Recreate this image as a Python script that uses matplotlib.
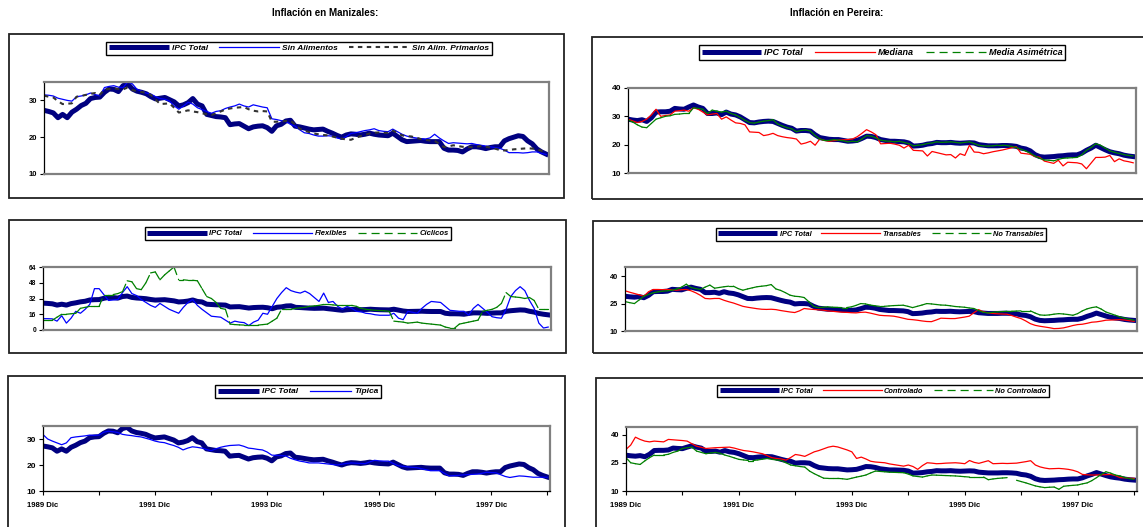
import numpy as np
import matplotlib
matplotlib.use("Agg")
import matplotlib.pyplot as plt
from matplotlib.collections import LineCollection
from matplotlib.lines import Line2D
from matplotlib.patches import Rectangle

plt.rcParams['font.family'] = ['Liberation Sans', 'DejaVu Sans']
plt.rcParams['lines.scale_dashes'] = False

W, H = 1143, 527

# monthly series, 1989 Dic .. 1998 Dic (109 months)
months = np.arange(109)
x_tick_pos = list(range(0, 109, 12))
x_tick_labels = ["1989 Dic", "", "1991 Dic", "", "1993 Dic", "", "1995 Dic", "", "1997 Dic", ""]

# ---- Manizales ----
mz_ipc = [27.3, 27.0, 26.6, 25.3, 26.2, 25.3, 26.8, 27.6, 28.6, 29.2,
          30.5, 30.8, 30.9, 32.2, 33.1, 33.0, 32.4, 34.0, 34.5, 33.1,
          32.5, 32.2, 31.8, 31.0, 30.4, 30.6, 30.8, 30.2, 29.6, 28.5,
          28.8, 29.4, 30.5, 29.0, 28.5, 26.2, 25.9, 25.6, 25.5, 25.3,
          23.4, 23.6, 23.7, 23.0, 22.3, 22.8, 23.0, 23.1, 22.6, 21.6,
          23.1, 23.5, 24.4, 24.6, 23.0, 22.8, 22.5, 22.2, 22.0, 22.1,
          22.2, 21.6, 21.1, 20.5, 20.0, 20.6, 20.9, 20.8, 20.6, 20.8,
          21.1, 20.8, 20.6, 20.5, 20.4, 21.1, 20.2, 19.3, 18.8, 18.9,
          19.0, 19.1, 18.9, 18.8, 18.8, 18.8, 17.0, 16.5, 16.5, 16.4,
          16.0, 16.8, 17.4, 17.4, 17.2, 16.9, 17.2, 17.4, 17.4, 19.0,
          19.6, 20.0, 20.4, 20.2, 19.0, 18.2, 16.8, 16.0, 15.4]
mz_sin_alim = [31.5, 31.4, 31.2, 30.6, 30.3, 30.0, 29.8, 31.0, 31.2, 31.5,
               32.0, 31.6, 31.2, 33.5, 33.8, 34.0, 33.6, 33.5, 35.0, 34.5,
               33.0, 32.5, 32.0, 31.7, 31.0, 30.5, 30.3, 29.8, 28.5, 27.6,
               28.5, 29.5, 29.0, 28.0, 27.5, 27.0, 26.5, 27.0, 27.2, 27.8,
               28.2, 28.5, 29.0, 28.5, 28.2, 28.8, 28.5, 28.2, 28.0, 25.0,
               24.8, 24.5, 24.3, 23.5, 23.0, 22.0, 21.2, 21.0, 20.6, 20.3,
               20.3, 20.4, 20.3, 19.8, 19.5, 20.2, 21.0, 21.2, 21.5, 21.8,
               22.0, 22.3, 21.8, 21.6, 21.5, 22.2, 21.5, 20.8, 20.3, 20.0,
               19.8, 19.6, 19.5, 19.8, 20.8, 19.8, 19.0, 18.3, 18.5, 18.4,
               18.3, 18.2, 18.3, 18.0, 17.8, 17.6, 17.4, 17.2, 17.0, 16.5,
               15.8, 15.8, 15.8, 15.7, 15.8, 16.0, 16.0, 15.6, 15.3]
mz_sin_prim = [31.3, 31.0, 30.8, 29.8, 29.0, 29.1, 29.2, 31.0, 31.2, 31.5,
               31.8, 32.0, 31.5, 33.0, 33.1, 33.3, 33.1, 33.0, 33.5, 32.8,
               32.5, 32.3, 32.0, 31.5, 30.2, 29.0, 29.1, 29.2, 28.0, 26.7,
               27.0, 27.3, 27.0, 26.8, 26.5, 26.2, 26.0, 26.5, 27.0, 27.5,
               27.8, 28.0, 28.1, 28.2, 27.6, 27.2, 27.0, 27.1, 27.0, 24.2,
               24.2, 24.3, 24.4, 24.5, 23.5, 22.3, 21.8, 21.4, 21.0, 20.8,
               20.6, 20.5, 20.2, 19.9, 19.6, 19.4, 19.3, 19.8, 20.3, 20.6,
               21.0, 21.2, 21.3, 21.2, 21.2, 21.8, 21.2, 20.5, 20.3, 20.2,
               19.9, 19.5, 19.3, 19.1, 19.0, 18.2, 17.3, 17.5, 17.8, 17.6,
               17.4, 17.3, 17.3, 17.4, 17.6, 17.4, 17.2, 16.9, 16.5, 16.4,
               16.5, 16.7, 16.8, 16.9, 17.0, 16.9, 16.8, 16.3, 15.8]
mz_flexibles = [11.5, 11.5, 11.3, 9.0, 14.5, 7.0, 12.0, 19.0, 17.0, 21.0,
                26.0, 42.0, 42.0, 36.0, 30.0, 30.5, 31.0, 38.0, 44.0, 37.0,
                35.0, 31.0, 28.0, 25.0, 23.0, 27.0, 24.0, 21.0, 19.0, 17.0,
                23.0, 28.0, 31.0, 25.0, 21.0, 17.5, 14.0, 13.5, 13.0, 10.0,
                7.0, 9.0, 8.0, 7.5, 4.5, 8.0, 10.0, 17.0, 16.0, 24.0,
                32.0, 38.0, 43.0, 40.0, 38.5, 37.5, 39.5, 37.0, 33.0, 29.0,
                37.5, 28.0, 29.0, 24.0, 21.0, 24.0, 22.0, 19.0, 18.5, 17.0,
                16.5, 15.5, 15.0, 15.0, 15.0, 17.0, 12.0, 10.5, 19.0, 18.0,
                17.0, 22.0, 26.0, 29.0, 28.5, 28.0, 24.0, 20.0, 19.5, 19.0,
                19.0, 15.0, 22.0, 26.0, 22.0, 18.0, 13.5, 12.5, 12.0, 21.0,
                34.0, 40.0, 44.0, 40.0, 30.0, 22.0, 7.0, 2.0, 3.0]
mz_ciclicos = [10.0, 10.0, 10.0, 13.0, 16.0, 16.0, 16.5, 17.0, 22.0, 23.0,
               24.0, 24.0, 24.0, 36.0, 36.0, 36.0, 37.0, 39.0, 50.0, 49.0,
               42.0, 41.0, 48.0, 58.0, 59.0, 51.0, 56.0, 60.0, 64.0, 51.0,
               51.0, 50.5, 50.5, 50.0, 42.0, 34.0, 32.0, 28.0, 22.0, 21.0,
               6.0, 5.5, 5.2, 5.0, 5.0, 5.0, 5.0, 5.5, 6.0, 9.0,
               12.0, 21.0, 21.0, 21.0, 22.0, 22.5, 23.0, 24.0, 24.5, 25.0,
               26.0, 26.0, 25.5, 25.0, 25.0, 25.0, 25.0, 24.0, 22.0, 21.0,
               20.5, 20.0, 19.8, 19.5, 19.0, 9.0, 8.5, 8.0, 7.0, 7.5,
               8.0, 7.0, 6.5, 6.0, 5.5, 5.0, 3.0, 2.0, 2.0, 6.0,
               7.0, 8.0, 9.0, 10.0, 19.0, 20.0, 21.0, 23.0, 27.0, 38.0,
               34.0, 33.5, 33.0, 32.0, 33.0, 30.0, 21.0, 21.0, 21.0]
mz_tipica = [31.7, 30.0, 29.2, 28.5, 27.8, 28.5, 30.5, 30.8, 31.0, 31.2,
             31.5, 31.4, 31.5, 32.6, 33.0, 32.8, 32.5, 31.8, 31.5, 31.3,
             31.0, 30.8, 30.3, 29.8, 29.2, 28.8, 28.6, 28.0, 27.5, 26.8,
             25.8, 26.5, 27.0, 26.8, 26.5, 26.0, 25.5, 26.2, 26.8, 27.2,
             27.5, 27.6, 27.7, 27.2, 26.5, 26.3, 26.0, 25.8, 25.0, 23.8,
             23.7, 23.6, 23.5, 22.6, 22.0, 21.5, 21.2, 20.8, 20.8, 20.8,
             20.6, 20.4, 20.2, 20.0, 20.3, 20.6, 20.8, 20.7, 20.6, 20.5,
             21.2, 21.8, 21.6, 21.5, 21.5, 20.6, 19.8, 19.5, 19.3, 19.1,
             19.0, 18.6, 18.2, 17.8, 17.8, 17.8, 16.8, 15.8, 15.9, 16.0,
             16.2, 16.3, 16.4, 16.5, 16.8, 17.2, 17.1, 17.0, 16.3, 15.6,
             15.2, 15.5, 15.8, 15.7, 15.5, 15.3, 15.3, 15.3, 15.3]

# ---- Pereira ----
pe_ipc = [29.0, 28.7, 28.5, 28.8, 28.2, 29.5, 31.5, 31.6, 31.6, 31.8,
          32.8, 32.6, 32.5, 33.3, 34.0, 33.3, 32.8, 31.0, 31.0, 31.2,
          30.6, 31.5, 30.8, 30.5, 29.8, 28.8, 27.8, 27.7, 28.0, 28.2,
          28.3, 28.2, 27.5, 26.8, 26.2, 25.8, 24.8, 25.0, 25.0, 24.8,
          23.5, 22.5, 22.2, 21.9, 21.8, 21.8, 21.5, 21.2, 21.3, 21.5,
          22.2, 23.0, 22.9, 22.5, 21.8, 21.5, 21.2, 21.2, 21.1, 21.0,
          20.6, 19.5, 19.6, 19.8, 20.2, 20.4, 20.8, 20.7, 20.7, 20.8,
          20.6, 20.5, 20.6, 20.7, 20.6, 20.0, 19.8, 19.6, 19.6, 19.6,
          19.7, 19.7, 19.6, 19.4, 18.8, 18.5, 17.8, 16.5, 15.8, 15.6,
          15.7, 15.8, 16.0, 16.1, 16.3, 16.4, 16.4, 17.0, 18.0, 18.8,
          19.8, 19.0, 18.2, 17.5, 17.1, 16.8, 16.3, 16.0, 15.8]
pe_mediana = [29.0, 28.4, 27.8, 28.2, 29.0, 30.5, 32.5, 30.0, 30.3, 30.5,
              31.8, 32.0, 32.2, 31.8, 33.0, 32.5, 31.5, 30.5, 30.8, 31.0,
              29.0, 29.8, 28.7, 27.7, 27.5, 27.0, 24.5, 24.4, 24.3, 23.2,
              23.5, 24.0, 23.2, 22.8, 22.5, 22.3, 22.0, 20.2, 20.6, 21.2,
              19.8, 22.0, 21.5, 21.2, 21.4, 21.6, 21.7, 21.8, 22.0, 22.8,
              24.0, 25.3, 24.5, 23.5, 20.3, 20.4, 20.5, 20.2, 19.8, 18.8,
              19.8, 18.0, 17.9, 17.8, 16.0, 17.6, 17.2, 16.8, 16.4, 16.5,
              15.3, 16.8, 16.2, 19.8, 17.4, 17.3, 16.8, 17.1, 17.5, 17.8,
              18.1, 18.5, 18.9, 19.3, 17.0, 16.8, 16.6, 15.8, 15.6, 14.2,
              13.8, 13.4, 14.5, 12.5, 13.8, 13.7, 13.6, 13.2, 11.5, 13.5,
              15.5, 15.5, 15.6, 16.2, 14.0, 15.0, 14.3, 14.0, 13.6]
pe_media_asim = [28.7, 28.0, 27.0, 26.2, 26.0, 27.5, 29.0, 29.5, 30.0, 30.2,
                 30.7, 30.8, 31.0, 31.0, 33.0, 32.8, 32.5, 31.0, 32.2, 31.8,
                 31.5, 31.8, 31.0, 30.5, 29.6, 28.6, 27.8, 27.6, 28.0, 28.3,
                 28.5, 28.8, 27.3, 26.6, 26.0, 25.6, 24.6, 25.0, 25.2, 24.8,
                 23.2, 22.0, 21.5, 21.5, 21.8, 21.6, 21.4, 21.0, 21.2, 21.0,
                 22.0, 23.2, 23.0, 22.4, 21.6, 21.3, 21.2, 21.0, 21.2, 20.8,
                 20.4, 19.6, 19.8, 20.0, 20.4, 20.6, 21.0, 20.8, 20.9, 21.0,
                 20.8, 20.6, 20.8, 21.0, 20.4, 19.8, 19.6, 19.5, 19.6, 19.8,
                 19.8, 19.7, 19.4, 19.0, 18.4, 17.8, 17.0, 16.0, 15.2, 14.6,
                 14.5, 14.3, 14.8, 15.2, 15.3, 15.4, 15.5, 16.4, 18.0, 19.0,
                 20.3, 19.8, 18.8, 17.8, 17.3, 16.9, 16.5, 16.2, 16.0]
pe_transables = [32.0, 31.2, 30.5, 29.8, 29.0, 31.5, 32.7, 32.7, 32.6, 32.7,
                 32.5, 32.3, 32.6, 32.7, 32.0, 30.9, 29.5, 27.8, 27.6, 27.8,
                 27.8, 26.8, 26.0, 25.3, 24.4, 23.5, 23.0, 22.6, 22.2, 21.9,
                 21.8, 21.9, 21.7, 21.2, 20.8, 20.4, 20.1, 21.0, 22.3, 22.0,
                 21.8, 21.6, 21.4, 21.0, 20.8, 20.5, 20.3, 20.2, 20.0, 19.9,
                 20.2, 20.3, 19.8, 19.2, 18.6, 18.4, 18.3, 18.1, 17.6, 17.0,
                 16.4, 16.2, 15.9, 15.5, 15.2, 15.1, 16.0, 17.0, 16.9, 16.8,
                 16.8, 17.2, 17.6, 18.1, 20.0, 21.7, 20.5, 19.9, 19.6, 19.4,
                 19.3, 19.2, 18.5, 17.6, 16.8, 15.5, 14.0, 13.1, 12.6, 12.2,
                 11.8, 11.3, 11.4, 11.7, 12.3, 13.0, 13.5, 13.7, 14.2, 14.8,
                 15.0, 15.4, 15.9, 16.0, 16.1, 16.2, 16.0, 15.6, 15.3]
pe_no_transables = [26.1, 25.5, 25.0, 27.0, 29.0, 30.0, 30.9, 31.4, 31.8, 32.0,
                    32.3, 33.0, 34.0, 35.6, 33.8, 33.2, 32.7, 34.0, 35.1, 33.4,
                    33.8, 34.2, 34.5, 34.5, 33.2, 32.3, 33.0, 33.6, 34.2, 34.5,
                    34.8, 35.4, 33.0, 32.2, 31.0, 29.6, 29.0, 28.8, 28.3, 26.0,
                    23.5, 22.8, 23.0, 23.2, 23.0, 22.9, 22.8, 22.8, 23.2, 24.0,
                    25.0, 24.8, 24.2, 23.8, 23.5, 23.5, 23.7, 23.9, 24.0, 24.1,
                    23.5, 22.8, 23.5, 24.2, 25.0, 24.8, 24.5, 24.2, 24.1, 23.8,
                    23.4, 23.2, 23.0, 22.6, 22.3, 21.2, 20.2, 19.9, 20.2, 20.5,
                    20.6, 20.8, 20.8, 20.9, 21.0, 21.0, 21.0, 19.8, 18.8, 18.6,
                    18.8, 19.2, 19.5, 19.3, 19.0, 18.6, 19.5, 21.0, 22.1, 22.8,
                    23.2, 22.0, 20.4, 19.5, 18.6, 17.7, 17.0, 16.4, 15.9]
pe_controlado = [32.1, 34.4, 38.6, 37.4, 36.5, 36.1, 36.5, 36.3, 36.1, 37.4,
                 37.2, 37.0, 36.8, 36.5, 35.1, 33.8, 33.2, 32.6, 32.8, 33.0,
                 33.1, 33.2, 33.3, 32.8, 32.1, 31.5, 31.2, 30.8, 30.3, 29.8,
                 28.8, 27.7, 27.3, 27.0, 26.4, 27.8, 29.4, 29.0, 28.4, 29.6,
                 30.8, 31.5, 32.4, 33.3, 33.8, 33.4, 32.6, 31.8, 30.8, 27.3,
                 28.0, 27.0, 25.8, 25.4, 25.2, 25.0, 24.4, 24.0, 23.6, 23.2,
                 23.8, 23.0, 21.5, 23.5, 25.0, 24.8, 24.5, 24.6, 24.8, 24.9,
                 25.0, 24.8, 24.5, 26.2, 25.2, 24.7, 25.4, 26.1, 24.5, 24.6,
                 24.7, 24.6, 24.7, 24.8, 25.2, 25.6, 26.1, 23.8, 22.8, 22.2,
                 21.8, 21.9, 22.0, 21.8, 21.5, 21.0, 20.2, 18.8, 18.6, 18.5,
                 18.5, 18.6, 18.7, 18.8, 18.2, 17.1, 17.0, 16.8, 16.7]
pe_no_controlado = [27.7, 25.0, 24.5, 24.1, 26.0, 27.7, 29.1, 29.1, 29.1, 29.5,
                    30.5, 31.2, 32.6, 33.0, 33.3, 31.2, 30.5, 29.8, 30.2, 30.5,
                    30.0, 29.1, 28.4, 27.6, 26.8, 26.5, 26.2, 26.2, 26.5, 26.9,
                    27.3, 26.8, 26.5, 26.2, 25.0, 23.8, 23.4, 23.0, 22.7, 20.6,
                    19.2, 18.0, 16.8, 16.7, 16.7, 16.7, 16.5, 16.2, 16.8, 17.4,
                    17.9, 18.5, 19.6, 20.6, 20.4, 20.2, 20.0, 19.9, 19.8, 19.7,
                    19.0, 18.0, 17.7, 17.4, 18.0, 18.5, 18.4, 18.3, 18.2, 18.1,
                    18.0, 17.8, 17.6, 17.4, 17.4, 17.4, 17.4, 16.0, 16.4, 16.7,
                    16.9, 17.1, np.nan, 15.7, 15.0, 14.3, 13.5, 12.7, 12.2, 11.8,
                    12.0, 12.1, 10.9, 12.5, 12.8, 13.0, 13.2, 13.8, 14.3, 15.5,
                    17.1, 18.8, 20.2, 19.5, 18.5, 18.0, 17.2, 16.6, 16.2]

NAVY = '#000080'
BLUE = '#0000FF'
RED = '#FF0000'
GREEN = '#008000'
GREY = '#333333'
FRAME = '#808080'
GREEN_DASH = (0, (5.8, 3.6))
GREY_DASH = (0, (3.2, 3.2))

fig = plt.figure(figsize=(W / 100, H / 100), dpi=100)
fig.patch.set_facecolor('white')


def px_axes(x0, y0, x1, y1):
    return fig.add_axes([x0 / W, 1 - y1 / H, (x1 - x0) / W, (y1 - y0) / H])


def panel_box(x0, y0, x1, y1):
    fig.add_artist(Rectangle((x0 / W, 1 - y1 / H), (x1 - x0) / W, (y1 - y0) / H,
                             transform=fig.transFigure, fill=False,
                             edgecolor='#222222', linewidth=1.3, clip_on=False))


def style_axes(ax, ylim, yticks, ysize, bottom_row=False):
    ax.set_xlim(0, 108.6)
    ax.set_ylim(*ylim)
    ax.set_yticks(yticks)
    for s in ['top', 'right', 'bottom']:
        ax.spines[s].set_color(FRAME)
        ax.spines[s].set_linewidth(1.6)
    ax.spines['left'].set_color('black')
    ax.spines['left'].set_linewidth(0.9)
    ax.tick_params(axis='y', direction='out', length=3, width=0.8, pad=2, labelsize=ysize)
    for lab in ax.get_yticklabels():
        lab.set_fontweight('bold')
    if bottom_row:
        ax.spines['bottom'].set_color('black')
        ax.spines['bottom'].set_linewidth(0.9)
        ax.set_xticks(x_tick_pos)
        ax.set_xticklabels(x_tick_labels, fontweight='bold', fontsize=5.6)
        ax.tick_params(axis='x', direction='out', length=3, width=0.8, pad=5)
    else:
        ax.set_xticks([])


def dashed_line(ax, y, color):
    # Excel restarts the dash on every segment, so only long jumps show gaps
    y = np.asarray(y, dtype=float)
    segs = [[(i, y[i]), (i + 1, y[i + 1])] for i in range(len(y) - 1)
            if not (np.isnan(y[i]) or np.isnan(y[i + 1]))]
    ax.add_collection(LineCollection(segs, colors=color, linewidths=0.9,
                                     linestyles=[GREEN_DASH], capstyle='round'))


def add_legend(handles, labels, cx, cy, fs, hl):
    leg = fig.legend(handles, labels, loc='center', bbox_to_anchor=(cx / W, 1 - cy / H),
                     ncol=len(handles), handlelength=hl, handletextpad=0.3,
                     columnspacing=1.4, borderpad=0.35, fancybox=False, framealpha=1,
                     prop={'weight': 'bold', 'style': 'italic', 'size': fs})
    leg.get_frame().set_edgecolor('black')
    leg.get_frame().set_linewidth(1.0)


h_ipc = Line2D([], [], color=NAVY, lw=3.6, solid_capstyle='butt')
h_blue = Line2D([], [], color=BLUE, lw=0.9)
h_red = Line2D([], [], color=RED, lw=0.9)
h_green = Line2D([], [], color=GREEN, lw=0.9, ls=GREEN_DASH)
h_grey = Line2D([], [], color=GREY, lw=1.5, ls=GREY_DASH)

# titles
fig.text(325 / W, 1 - 13 / H, "Inflación en Manizales:", ha='center', va='center',
         fontsize=7, fontweight='bold')
fig.text(837 / W, 1 - 13 / H, "Inflación en Pereira:", ha='center', va='center',
         fontsize=7, fontweight='bold')

# outer boxes
panel_box(9, 34, 564, 198)
panel_box(592, 37, 1160, 199)
panel_box(9, 220, 566, 353)
panel_box(593, 221, 1160, 353)
panel_box(8, 376, 565, 540)
panel_box(596, 378, 1160, 540)

# ---- Manizales panels ----
ax = px_axes(44, 82, 549, 174)
ax.plot(months, mz_ipc, color=NAVY, lw=3.6)
ax.plot(months, mz_sin_alim, color=BLUE, lw=0.9)
ax.plot(months, mz_sin_prim, color=GREY, lw=1.5, ls=GREY_DASH)
style_axes(ax, (10, 35), [10, 20, 30], 5.5)
add_legend([h_ipc, h_blue, h_grey], ["IPC Total", "Sin Alimentos", "Sin Alim. Primarios"],
           299, 48.5, 6, 7.2)

ax = px_axes(43, 267, 551, 330)
ax.plot(months, mz_ipc, color=NAVY, lw=3.6)
ax.plot(months, mz_flexibles, color=BLUE, lw=0.9)
dashed_line(ax, mz_ciclicos, GREEN)
style_axes(ax, (0, 64), [0, 16, 32, 48, 64], 4.8)
add_legend([h_ipc, h_blue, h_green], ["IPC Total", "Flexibles", "Cíclicos"],
           298, 233.5, 5.5, 7.8)

ax = px_axes(43, 426, 550, 491)
ax.plot(months, mz_ipc, color=NAVY, lw=3.6)
ax.plot(months, mz_tipica, color=BLUE, lw=0.9)
style_axes(ax, (10, 35), [10, 20, 30], 6, bottom_row=True)
add_legend([h_ipc, h_blue], ["IPC Total", "Típica"], 298, 391.5, 6, 5.0)

# ---- Pereira panels ----
ax = px_axes(628, 88, 1136, 173)
ax.plot(months, pe_ipc, color=NAVY, lw=3.6)
ax.plot(months, pe_mediana, color=RED, lw=0.9)
dashed_line(ax, pe_media_asim, GREEN)
style_axes(ax, (10, 40), [10, 20, 30, 40], 6)
add_legend([h_ipc, h_red, h_green], ["IPC Total", "Mediana", "Media Asimétrica"],
           882, 52.5, 6.5, 6.6)

ax = px_axes(625, 267, 1137, 331)
ax.plot(months, pe_ipc, color=NAVY, lw=3.6)
ax.plot(months, pe_transables, color=RED, lw=0.9)
dashed_line(ax, pe_no_transables, GREEN)
style_axes(ax, (10, 45), [10, 25, 40], 5.3)
add_legend([h_ipc, h_red, h_green], ["IPC Total", "Transables", "No Transables"],
           881, 234.5, 5.3, 8)

ax = px_axes(626, 427, 1137, 491)
ax.plot(months, pe_ipc, color=NAVY, lw=3.6)
ax.plot(months, pe_controlado, color=RED, lw=0.9)
dashed_line(ax, pe_no_controlado, GREEN)
style_axes(ax, (10, 44), [10, 25, 40], 5.5, bottom_row=True)
add_legend([h_ipc, h_red, h_green], ["IPC Total", "Controlado", "No Controlado"],
           883, 391, 5.3, 8)

fig.savefig("out.png", dpi=100)
